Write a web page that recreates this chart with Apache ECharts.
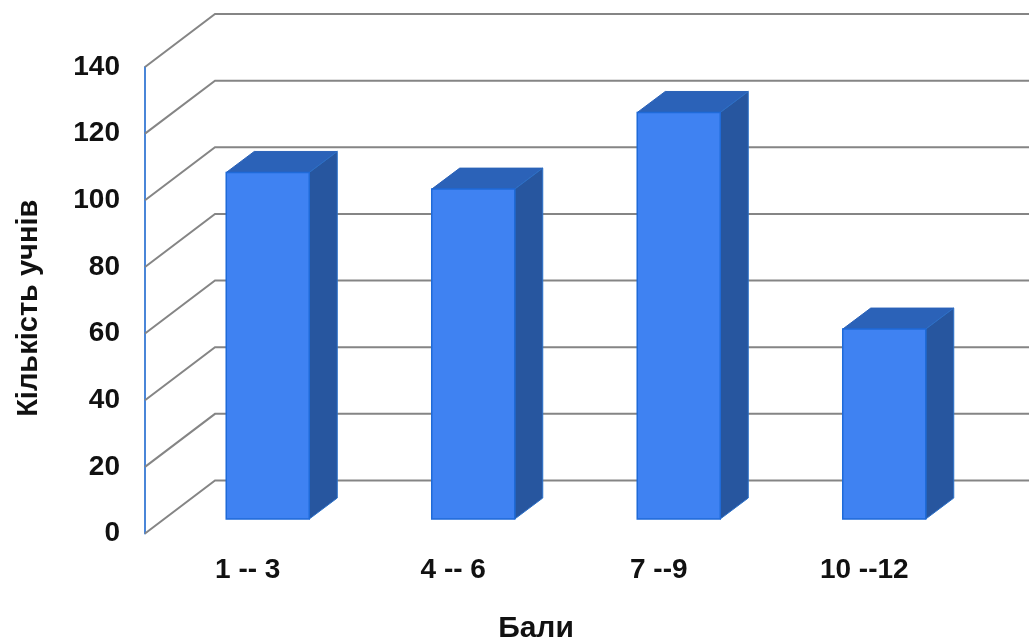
<!DOCTYPE html>
<html><head><meta charset="utf-8">
<style>html,body{margin:0;padding:0;background:#fff}#c{width:1029px;height:639px}</style>
<script src="https://cdn.jsdelivr.net/npm/echarts@6/dist/echarts.min.js"></script>
</head><body><div id="c"></div>
<script>
const categories = ['1 -- 3', '4 -- 6', '7 --9', '10 --12'];
const pupils = [104, 99, 122, 57];
const yTicks = [0, 20, 40, 60, 80, 100, 120, 140];

const wallDepth = [70, -53];
const barShift = [20, -14.5];
const barDepth = [28, -21];
const barRatio = 0.404;
const font = '"Liberation Sans", Arial, sans-serif';

const chart = echarts.init(document.getElementById('c'), null, {renderer: 'canvas'});
chart.setOption({
  animation: false,
  backgroundColor: '#ffffff',
  grid: {left: 145, right: 62, top: 67, bottom: 105.5, outerBoundsMode: 'none'},
  xAxis: {
    type: 'category', data: categories,
    name: 'Бали', nameLocation: 'middle', nameGap: 80,
    nameTextStyle: {fontFamily: font, fontWeight: 'bold', fontSize: 30, color: '#111', padding: [0, 40, 0, 0]},
    axisLine: {show: false}, axisTick: {show: false},
    axisLabel: {fontFamily: font, fontWeight: 'bold', fontSize: 28, color: '#111', margin: 23}
  },
  yAxis: {
    type: 'value', min: 0, max: 140, interval: 20,
    name: 'Кількість учнів', nameLocation: 'middle', nameGap: 102, nameRotate: 90,
    nameTextStyle: {fontFamily: font, fontWeight: 'bold', fontSize: 29, color: '#111', padding: [0, 16, 0, 0]},
    axisLine: {show: true, lineStyle: {color: '#4a86d8', width: 2}},
    axisTick: {show: false}, splitLine: {show: false},
    axisLabel: {fontFamily: font, fontWeight: 'bold', fontSize: 28, color: '#111', margin: 25}
  },
  series: [
    {
      type: 'custom', coordinateSystem: 'cartesian2d', clip: false, z: 1,
      data: yTicks.map(v => [0, v]),
      encode: {x: 0, y: 1},
      renderItem(params, api) {
        const p = api.coord([0, api.value(1)]);
        const x0 = params.coordSys.x;
        const x1 = x0 + params.coordSys.width;
        const line = {stroke: '#858585', lineWidth: 2, fill: null};
        return {type: 'group', children: [
          {type: 'polyline', shape: {points: [[x0, p[1]], [x0 + wallDepth[0], p[1] + wallDepth[1]], [x1 + wallDepth[0], p[1] + wallDepth[1]]]}, style: line}
        ]};
      }
    },
    {
      type: 'custom', coordinateSystem: 'cartesian2d', clip: false, z: 2,
      data: pupils.map((v, i) => [i, v]),
      encode: {x: 0, y: 1},
      renderItem(params, api) {
        const i = api.value(0);
        const top = api.coord([i, api.value(1)]);
        const base = api.coord([i, 0]);
        const w = api.size([1, 0])[0] * barRatio;
        const l = top[0] - w / 2 + barShift[0], r = l + w;
        const t = top[1] + barShift[1], b = base[1] + barShift[1];
        const [dx, dy] = barDepth;
        return {type: 'group', children: [
          {type: 'polygon', shape: {points: [[l, t], [r, t], [r + dx, t + dy], [l + dx, t + dy]]},
           style: {fill: '#2b62b8', stroke: '#2b62b8', lineWidth: 1}},
          {type: 'polygon', shape: {points: [[r, t], [r + dx, t + dy], [r + dx, b + dy], [r, b]]},
           style: {fill: '#27569f', stroke: '#2b70c8', lineWidth: 1}},
          {type: 'rect', shape: {x: l, y: t, width: w, height: b - t},
           style: {fill: '#3f82f2', stroke: '#1f6ad8', lineWidth: 1.5}}
        ]};
      }
    }
  ]
});
</script></body></html>
